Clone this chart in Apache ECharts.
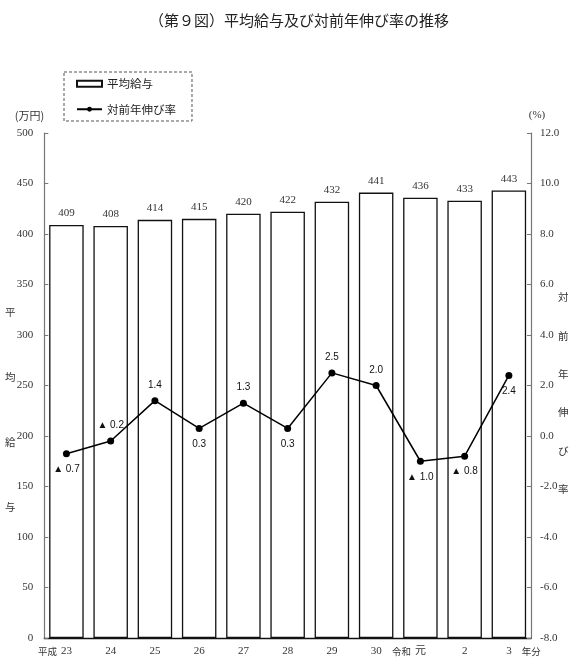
<!DOCTYPE html>
<html>
<head>
<meta charset="utf-8">
<script src="https://cdn.jsdelivr.net/npm/echarts@6/dist/echarts.min.js"></script>
<style>
html,body{margin:0;padding:0;background:#fff;}
#chart{width:577px;height:672px;}
</style>
</head>
<body>
<div id="chart"></div>
<script>
// ---- data ----
const categories = ['平成 23', '24', '25', '26', '27', '28', '29', '30', '令和 元', '2', '3 年分'];
const avgSalary = [409, 408, 414, 415, 420, 422, 432, 441, 436, 433, 443];
const growthRate = [-0.7, -0.2, 1.4, 0.3, 1.3, 0.3, 2.5, 2.0, -1.0, -0.8, 2.4];
const rateLabelSide = ['bottom', 'top', 'top', 'bottom', 'top', 'bottom', 'top', 'top', 'bottom', 'bottom', 'bottom'];
const leftTicks = { min: 0, max: 500, interval: 50 };
const rightTicks = { min: -8, max: 12, interval: 2 };

const SERIF = "'Liberation Serif', 'Noto Sans CJK JP', serif";
const SANS = "'Liberation Sans', 'Noto Sans CJK JP', sans-serif";
const CJK = "'Noto Sans CJK JP', sans-serif";

const chart = echarts.init(document.getElementById('chart'));

const option = {
  backgroundColor: '#fff',
  animation: false,
  title: {
    text: '（第９図）平均給与及び対前年伸び率の推移',
    left: 144,
    top: 8,
    textStyle: { fontFamily: CJK, fontSize: 15, fontWeight: 'normal', color: '#222' }
  },
  legend: {
    orient: 'vertical',
    left: 64,
    top: 72,
    padding: [6, 16, 6, 12],
    itemWidth: 25,
    itemHeight: 6,
    itemGap: 14,
    itemTextGap: 3,
    borderColor: '#555',
    borderWidth: 1,
    borderType: [3, 2],
    textStyle: { fontFamily: CJK, fontSize: 11.5, color: '#222' },
    data: [
      { name: '平均給与', icon: 'rect' },
      { name: '対前年伸び率' }
    ]
  },
  grid: { left: 44.3, right: 46, top: 133, bottom: 34, containLabel: false, outerBoundsMode: 'none' },
  xAxis: {
    type: 'category',
    data: categories,
    axisLine: { lineStyle: { color: '#111', width: 1.3 } },
    axisTick: { show: false },
    axisLabel: {
      margin: 8,
      interval: 0,
      color: '#333',
      fontFamily: SERIF,
      fontSize: 11,
      formatter: function (v) {
        const parts = v.split(' ');
        if (parts.length === 1) return '{n|' + v + '}';
        if (/^[0-9]+$/.test(parts[0])) {
          return '{padS| }{n|' + parts[0] + '}{suf|' + parts[1] + '}';
        }
        return '{pre|' + parts[0] + '}{n|' + parts[1] + '}{padP| }';
      },
      rich: {
        n: { fontFamily: SERIF, fontSize: 11, color: '#333' },
        pre: { fontFamily: CJK, fontSize: 9.5, color: '#333', width: 23, align: 'left' },
        padP: { fontSize: 9.5, width: 23 },
        suf: { fontFamily: CJK, fontSize: 9.5, color: '#333', width: 29, align: 'right' },
        padS: { fontSize: 9.5, width: 29 }
      }
    }
  },
  yAxis: [
    {
      type: 'value',
      min: leftTicks.min, max: leftTicks.max, interval: leftTicks.interval,
      name: '(万円)',
      nameGap: 12,
      nameTextStyle: { fontFamily: CJK, fontSize: 11, color: '#333', align: 'right' },
      axisLine: { show: true, lineStyle: { color: '#777', width: 1.2 } },
      axisTick: { show: true, inside: true, length: 4, lineStyle: { color: '#777' } },
      splitLine: { show: false },
      axisLabel: { margin: 11, color: '#333', fontFamily: SERIF, fontSize: 11 }
    },
    {
      type: 'value',
      min: rightTicks.min, max: rightTicks.max, interval: rightTicks.interval,
      name: '(%)',
      nameGap: 12,
      nameTextStyle: { fontFamily: SERIF, fontSize: 11, color: '#333', align: 'center', padding: [0, 0, 0, 12] },
      axisLine: { show: true, lineStyle: { color: '#777', width: 1.2 } },
      axisTick: { show: true, inside: true, length: 4, lineStyle: { color: '#777' } },
      splitLine: { show: false },
      axisLabel: {
        margin: 9, color: '#333', fontFamily: SERIF, fontSize: 11,
        formatter: function (v) { return v.toFixed(1); }
      }
    }
  ],
  graphic: [
    {
      type: 'text', left: 5, top: 280,
      style: { text: '平\n均\n給\n与', fill: '#333', font: "10.5px 'Noto Sans CJK JP'", lineHeight: 65 }
    },
    {
      type: 'text', left: 558, top: 278,
      style: { text: '対\n前\n年\n伸\nび\n率', fill: '#333', font: "10.5px 'Noto Sans CJK JP'", lineHeight: 38.4 }
    }
  ],
  series: [
    {
      name: '平均給与',
      type: 'bar',
      data: avgSalary,
      barCategoryGap: '22%',
      itemStyle: { color: '#fff', borderColor: '#111', borderWidth: 1.3 },
      label: {
        show: true, position: 'top', distance: 6,
        color: '#333', fontFamily: SERIF, fontSize: 11
      },
      z: 2
    },
    {
      name: '対前年伸び率',
      type: 'line',
      yAxisIndex: 1,
      data: growthRate.map(function (v, i) {
        return { value: v, label: { position: rateLabelSide[i] } };
      }),
      symbol: 'circle',
      symbolSize: 7,
      lineStyle: { color: '#000', width: 1.5 },
      itemStyle: { color: '#000' },
      label: {
        show: true, distance: 7,
        color: '#111', fontFamily: SANS, fontSize: 10,
        formatter: function (p) {
          const v = p.value;
          return v < 0 ? '▲ ' + Math.abs(v).toFixed(1) : v.toFixed(1);
        }
      },
      z: 3
    }
  ]
};

chart.setOption(option);
</script>
</body>
</html>
